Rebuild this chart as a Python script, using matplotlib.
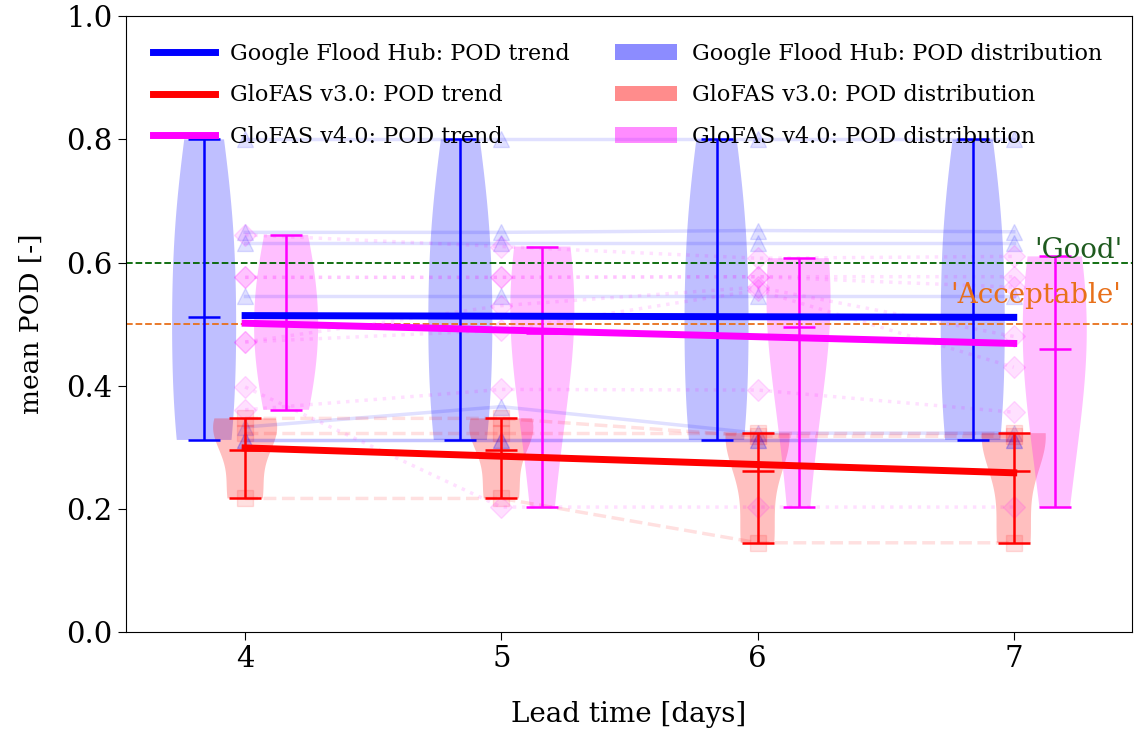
import numpy as np
import matplotlib
matplotlib.use("Agg")
import matplotlib.pyplot as plt
import matplotlib.patches as mpatches

plt.rcParams['font.family'] = ['DejaVu Serif']

# 预报提前期 (天)
lead_times = [4, 5, 6, 7]

# 每个事件在各提前期的 POD 值 (行 = 事件, 列 = 提前期)
pod_google = [
    [0.80, 0.80, 0.80, 0.80],
    [0.649, 0.649, 0.652, 0.65],
    [0.632, 0.632, 0.632, 0.632],
    [0.545, 0.545, 0.545, 0.545],
    [0.333, 0.366, 0.323, 0.323],
    [0.312, 0.312, 0.312, 0.312],
    [0.312, 0.312, 0.312, 0.312],
]
pod_glofas3 = [
    [0.347, 0.347, 0.318, 0.318],
    [0.323, 0.323, 0.323, 0.323],
    [0.217, 0.217, 0.145, 0.145],
]
pod_glofas4 = [
    [0.645, 0.626, 0.607, 0.610],
    [0.576, 0.576, 0.577, 0.577],
    [0.576, 0.576, 0.577, 0.560],
    [0.471, 0.530, 0.560, 0.480],
    [0.471, 0.490, 0.555, 0.430],
    [0.361, 0.394, 0.393, 0.357],
    [0.398, 0.203, 0.203, 0.203],
]

model_names = ["Google Flood Hub", "GloFAS v3.0", "GloFAS v4.0"]
thresholds = [0.6, 0.5]
threshold_labels = ["'Good'", "'Acceptable'"]


def main():
    fig, ax = plt.subplots(figsize=(11.35, 7.35), dpi=100)
    fig.subplots_adjust(left=0.111, right=0.997, bottom=0.14, top=0.978)

    leads = np.array(lead_times, dtype=float)
    models = [
        # 数据, 颜色, 偏移, 标记, 线型, 核密度带宽
        (np.array(pod_google), 'blue', -0.16, '^', '-', 0.9),
        (np.array(pod_glofas3), 'red', 0.0, 's', '--', 0.66),
        (np.array(pod_glofas4), 'magenta', 0.16, 'D', ':', 1.2),
    ]

    trend_handles = []
    dist_handles = []
    for (pod, color, offset, marker, ls, bw), name in zip(models, model_names):
        # 单个事件的连线
        for row in pod:
            ax.plot(leads, row, linestyle=ls, color=color, lw=2.5, alpha=0.12,
                    marker=marker, markersize=11, zorder=2)

        # 小提琴图
        vp = ax.violinplot([pod[:, i] for i in range(len(leads))],
                           positions=leads + offset, widths=0.25,
                           showmeans=True, showextrema=True, bw_method=bw)
        for body in vp['bodies']:
            body.set_facecolor(color)
            body.set_edgecolor('none')
            body.set_alpha(0.25)
            body.set_zorder(1)
        for key in ['cbars', 'cmins', 'cmaxes', 'cmeans']:
            vp[key].set_color(color)
            vp[key].set_linewidth(1.8)
            vp[key].set_zorder(3)

        # 均值趋势
        means = pod.mean(axis=0)
        k, b = np.polyfit(leads, means, 1)
        line, = ax.plot(leads, k * leads + b, color=color, lw=5, zorder=4,
                        label=f'{name}: POD trend')
        trend_handles.append(line)
        dist_handles.append(mpatches.Patch(color=color, alpha=0.45, lw=0,
                                           label=f'{name}: POD distribution'))

    # 阈值线
    ax.axhline(thresholds[0], color='darkgreen', ls='--', lw=1.3, zorder=2)
    ax.axhline(thresholds[1], color='#e8701a', ls='--', lw=1.3, zorder=2)
    ax.text(7.425, thresholds[0] + 0.008, threshold_labels[0], color='#1e5a1e',
            ha='right', va='baseline', fontsize=20)
    ax.text(7.42, thresholds[1] + 0.035, threshold_labels[1], color='#e8701a',
            ha='right', va='baseline', fontsize=20)

    ax.set_xlim(3.535, 7.46)
    ax.set_ylim(0, 1)
    ax.set_xticks(lead_times)
    ax.set_yticks(np.arange(0, 1.01, 0.2))
    ax.tick_params(labelsize=21, length=6)
    ax.set_xlabel('Lead time [days]', fontsize=20, labelpad=20)
    ax.set_ylabel('mean POD [-]', fontsize=19, labelpad=16)

    ax.legend(handles=trend_handles + dist_handles, ncol=2, loc='upper left',
              frameon=False, fontsize=16, handlelength=2.8, labelspacing=0.88,
              columnspacing=2.0, borderaxespad=0.8, handletextpad=0.7)

    plt.savefig('out.png', dpi=100)


if __name__ == "__main__":
    main()
